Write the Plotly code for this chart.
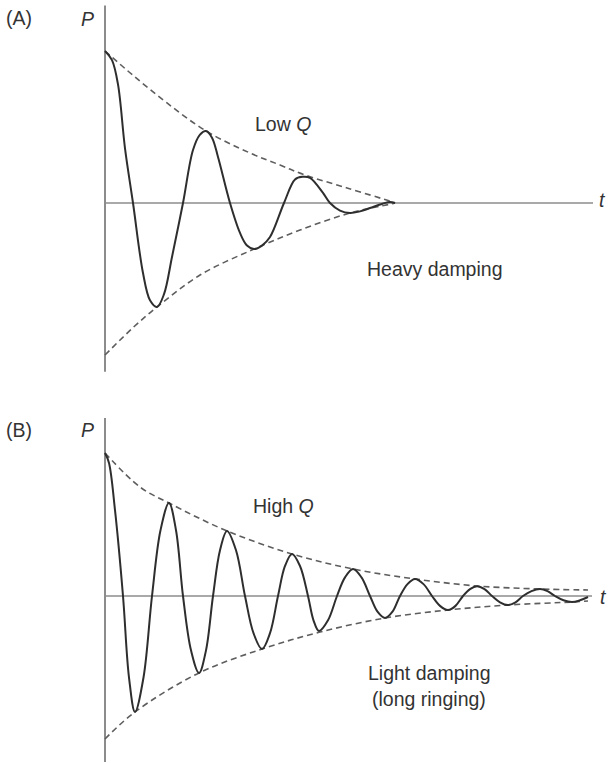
import plotly.graph_objects as go

# ---------------- Panel A: low Q, heavy damping ----------------
# time (arbitrary units) and pressure (relative to initial amplitude)
t_a = [0.0, 0.14, 0.26, 0.4, 0.56, 0.76, 0.9, 1.04, 1.18, 1.34, 1.56, 1.76, 1.9, 2.02,
       2.14, 2.26, 2.5, 2.7, 2.84, 2.98, 3.14, 3.3, 3.58, 3.8, 3.95, 4.1, 4.36, 4.5,
       4.7, 4.9, 5.1, 5.3, 5.55, 5.7, 5.8]
p_a = [1.0, 0.94, 0.78, 0.36, 0.0, -0.461, -0.64, -0.684, -0.6, -0.355, 0.0, 0.349, 0.45, 0.474,
       0.43, 0.303, 0.0, -0.197, -0.28, -0.303, -0.28, -0.224, 0.0, 0.155, 0.172, 0.165, 0.066, 0.0,
       -0.05, -0.066, -0.055, -0.033, -0.005, 0.007, 0.0]

env_up_t_a = [0.0, 0.56, 1.24, 2.02, 2.9, 3.5, 4.0, 4.84, 5.7, 5.8]
env_up_p_a = [1.0, 0.84, 0.658, 0.474, 0.329, 0.25, 0.184, 0.099, 0.012, 0.0]
env_lo_t_a = [0.0, 0.56, 1.04, 1.9, 2.98, 3.9, 4.9, 5.7, 5.8]
env_lo_p_a = [-1.0, -0.82, -0.684, -0.474, -0.303, -0.178, -0.066, -0.008, 0.0]

# ---------------- Panel B: high Q, light damping ----------------
t_b = [0.0, 0.08, 0.2, 0.36, 0.48, 0.6, 0.77, 0.94, 1.11, 1.28, 1.42, 1.56, 1.72, 1.88,
       2.02, 2.16, 2.3, 2.44, 2.62, 2.8, 2.97, 3.14, 3.3, 3.46, 3.6, 3.74, 3.9, 4.06,
       4.17, 4.28, 4.46, 4.64, 4.8, 4.96, 5.13, 5.3, 5.45, 5.6, 5.75, 5.9, 6.05, 6.2,
       6.37, 6.54, 6.7, 6.86, 7.01, 7.16, 7.3, 7.44, 7.59, 7.74, 7.9, 8.06, 8.21, 8.36,
       8.53, 8.7, 8.85, 9.0, 9.17, 9.34, 9.5, 9.66]
p_b = [1.0, 0.93, 0.6, 0.0, -0.57, -0.811, -0.57, 0.0, 0.46, 0.65, 0.46, 0.0, -0.38, -0.538,
       -0.38, 0.0, 0.32, 0.455, 0.32, 0.0, -0.26, -0.371, -0.26, 0.0, 0.21, 0.294, 0.21, 0.0,
       -0.17, -0.245, -0.17, 0.0, 0.13, 0.189, 0.13, 0.0, -0.11, -0.154, -0.11, 0.0, 0.083, 0.119,
       0.083, 0.0, -0.069, -0.098, -0.069, 0.0, 0.048, 0.068, 0.048, 0.0, -0.044, -0.063, -0.044, 0.0,
       0.034, 0.049, 0.034, 0.0, -0.03, -0.042, -0.03, -0.007]

env_up_t_b = [0.0, 0.7, 1.28, 2.44, 3.74, 4.96, 6.2, 7.44, 8.7, 9.66]
env_up_p_b = [1.0, 0.762, 0.650, 0.455, 0.294, 0.189, 0.119, 0.070, 0.049, 0.042]
env_lo_t_b = [0.0, 0.6, 1.88, 3.14, 4.3, 5.6, 6.86, 8.06, 9.34, 9.66]
env_lo_p_b = [-1.0, -0.811, -0.538, -0.371, -0.252, -0.154, -0.098, -0.063, -0.042, -0.035]

# axis extents (t from 0 to end; P from bottom to top)
axis_t_a = [0.0, 9.76]
axis_p_a = [-1.11, 1.30]
axis_t_b = [0.0, 9.74]
axis_p_b = [-1.16, 1.245]

CURVE = "#2e2e2e"
DASH = "#5e5e5e"
AXIS = "#8c8c8c"
TEXT = "#333333"
FONT = "Liberation Sans, Arial, sans-serif"

fig = go.Figure()

def add_panel(yref, t, p, eu_t, eu_p, el_t, el_p, ax_t, ax_p):
    fig.add_trace(go.Scatter(x=ax_t, y=[0, 0], mode="lines", yaxis=yref,
                             line=dict(color=AXIS, width=1.6), hoverinfo="skip"))
    fig.add_trace(go.Scatter(x=[0, 0], y=ax_p, mode="lines", yaxis=yref,
                             line=dict(color=AXIS, width=2), hoverinfo="skip"))
    fig.add_trace(go.Scatter(x=eu_t, y=eu_p, mode="lines", yaxis=yref,
                             line=dict(color=DASH, width=1.6, dash="6px,4px", shape="spline"),
                             hoverinfo="skip"))
    fig.add_trace(go.Scatter(x=el_t, y=el_p, mode="lines", yaxis=yref,
                             line=dict(color=DASH, width=1.6, dash="6px,4px", shape="spline"),
                             hoverinfo="skip"))
    fig.add_trace(go.Scatter(x=t, y=p, mode="lines", yaxis=yref,
                             line=dict(color=CURVE, width=2, shape="spline", smoothing=1.0),
                             hoverinfo="skip"))

add_panel("y", t_a, p_a, env_up_t_a, env_up_p_a, env_lo_t_a, env_lo_p_a, axis_t_a, axis_p_a)
add_panel("y2", t_b, p_b, env_up_t_b, env_up_p_b, env_lo_t_b, env_lo_p_b, axis_t_b, axis_p_b)

W, H = 610, 763

def ann(text, px, py, size=19.5):
    fig.add_annotation(text=text, x=px / W, y=1 - py / H, xref="paper", yref="paper",
                       showarrow=False, xanchor="center", yanchor="middle",
                       font=dict(family=FONT, size=size, color=TEXT))

ann("(A)", 18.5, 18)
ann("<i>P</i>", 87, 19)
ann("<i>t</i>", 602, 200)
ann("Low <i>Q</i>", 283, 124)
ann("Heavy damping", 435, 269)

ann("(B)", 18.5, 430)
ann("<i>P</i>", 87, 430)
ann("<i>t</i>", 603, 597)
ann("High <i>Q</i>", 283, 506)
ann("Light damping", 429, 673)
ann("(long ringing)", 429, 699)

axis_common = dict(visible=False, showgrid=False, zeroline=False, fixedrange=True)
fig.update_layout(
    width=W, height=H, autosize=False,
    margin=dict(l=0, r=0, t=0, b=0, pad=0),
    paper_bgcolor="white", plot_bgcolor="white",
    showlegend=False,
    xaxis=dict(range=[-105 / 50, (W - 105) / 50], domain=[0, 1], **axis_common),
    yaxis=dict(range=[-(H - 203) / 152, 203 / 152], domain=[0, 1], **axis_common),
    yaxis2=dict(range=[-(H - 596) / 143, 596 / 143], overlaying="y", **axis_common),
)

fig.write_html("out.html", config={"displayModeBar": False},
               post_script="document.body.style.margin='0';document.body.style.overflow='hidden';")
